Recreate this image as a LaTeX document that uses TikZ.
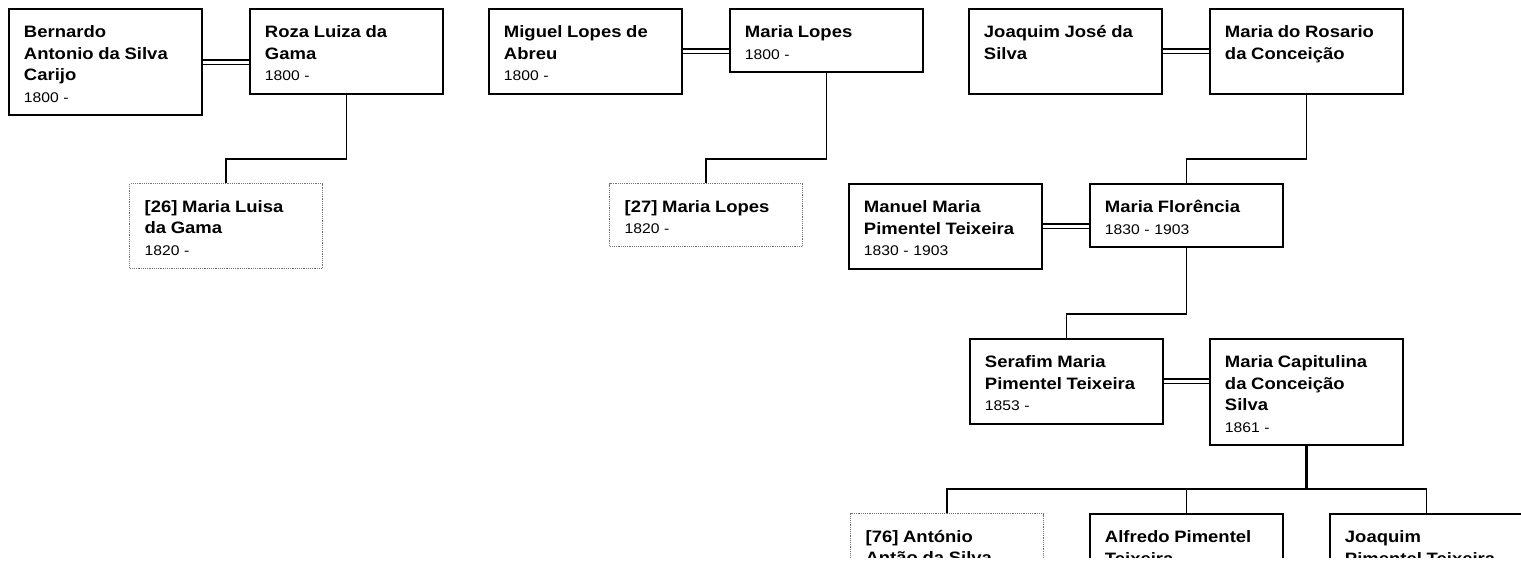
\documentclass[tikz,border=0pt]{standalone}
\usepackage{fontspec}
\setmainfont{Liberation Sans}[FakeStretch=1.12]
\newcommand{\namefont}{\bfseries\fontsize{16.5}{21.5}\selectfont}
\newcommand{\datefont}{\mdseries\fontsize{14}{21.5}\selectfont}
\newcommand{\person}[2]{\rule{0pt}{18.2pt}{\namefont #1}\\{\datefont #2\rule[-2.5pt]{0pt}{0pt}}}
\newcommand{\cutoff}[1]{\rule{0pt}{18.2pt}{\namefont #1}}
\tikzset{
  person/.style={draw, line width=1.9pt, anchor=north west, text width=163pt,
    inner xsep=15pt, inner ysep=10.5pt, align=left, fill=white,
    font=\datefont},
  lost/.style={person, draw=black!55, line width=1.2pt, densely dotted},
  marriage/.style={double, double distance=3pt, line width=1.6pt},
  descent/.style={line width=1.9pt}
}

\begin{document}
\begin{tikzpicture}[x=1pt,y=1pt,yscale=-1,xscale=1]
  \useasboundingbox (0,0) rectangle (1521,565);
  \clip (0,0) rectangle (1521,557);
  \node[person] (bernardo) at (8,8) {\person{Bernardo\\Antonio da Silva\\Carijo}{1800 -}};
  \node[person] (roza) at (249,8) {\person{Roza Luiza da\\Gama}{1800 -}};
  \node[lost] (luisa) at (129,183) {\person{[26] Maria Luisa\\da Gama}{1820 -}};
  \node[person] (miguel) at (488,8) {\person{Miguel Lopes de\\Abreu}{1800 -}};
  \node[person] (marialopes) at (729,8) {\person{Maria Lopes}{1800 -}};
  \node[lost] (lopes) at (609,183) {\person{[27] Maria Lopes}{1820 -}};
  \node[person] (joaquimjs) at (968,8) {\person{Joaquim José da\\Silva}{}};
  \node[person] (rosario) at (1209,8) {\person{Maria do Rosario\\da Conceição}{}};
  \node[person] (manuel) at (848,183) {\person{Manuel Maria\\Pimentel Teixeira}{1830 - 1903}};
  \node[person] (florencia) at (1089,183) {\person{Maria Florência}{1830 - 1903}};
  \node[person] (serafim) at (969,338) {\person{Serafim Maria\\Pimentel Teixeira}{1853 -}};
  \node[person] (capitulina) at (1209,338) {\person{Maria Capitulina\\da Conceição\\Silva}{1861 -}};
  \node[lost] (antonio) at (850,513) {\cutoff{[76] António\\Antão da Silva}};
  \node[person] (alfredo) at (1089,513) {\cutoff{Alfredo Pimentel\\Teixeira}};
  \node[person] (joaquimpt) at (1329,513) {\cutoff{Joaquim\\Pimentel Teixeira}};

  \draw[marriage] (bernardo.east) -- (bernardo.east -| roza.west);
  \draw[marriage] (miguel.east) -- (miguel.east -| marialopes.west);
  \draw[marriage] (joaquimjs.east) -- (joaquimjs.east -| rosario.west);
  \draw[marriage] (manuel.east) -- (manuel.east -| florencia.west);
  \draw[marriage] (serafim.east) -- (serafim.east -| capitulina.west);

  \draw[descent] (roza.south) |- ([yshift=-24pt]luisa.north) -- (luisa.north);
  \draw[descent] (marialopes.south) |- ([yshift=-24pt]lopes.north) -- (lopes.north);
  \draw[descent] (rosario.south) |- ([yshift=-24pt]florencia.north) -- (florencia.north);
  \draw[descent] (florencia.south) |- ([yshift=-24pt]serafim.north) -- (serafim.north);
  \draw[line width=3pt] (capitulina.south) -- ([yshift=-24pt]capitulina.south |- alfredo.north);
  \foreach \kid in {antonio, alfredo, joaquimpt}
    \draw[descent] (capitulina.south) |- ([yshift=-24pt]\kid.north) -- (\kid.north);
\end{tikzpicture}
\end{document}
